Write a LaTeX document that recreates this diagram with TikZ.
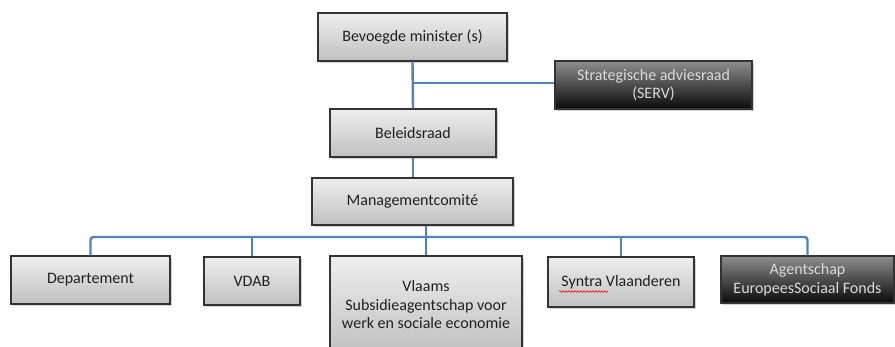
\documentclass[tikz,border=0pt]{standalone}
\usepackage{fontspec}
\setmainfont{Carlito}
\usetikzlibrary{shadows,decorations.pathmorphing}
\definecolor{linkblue}{HTML}{4F81BD}
\definecolor{boxedge}{HTML}{333333}
\definecolor{lighttop}{HTML}{EEEEEE}
\definecolor{lightbot}{HTML}{C0C0C0}
\definecolor{darktop}{HTML}{8E8E8E}
\definecolor{darkbot}{HTML}{0A0A0A}
\definecolor{lighttext}{HTML}{DADADA}
\definecolor{darktext}{HTML}{202020}
\tikzset{
  base/.style={rectangle, draw=boxedge, line width=1.1pt, inner sep=0pt, align=center,
    font=\fontsize{16}{18.5}\selectfont,
    drop shadow={shadow xshift=1.5pt, shadow yshift=-1.8pt, opacity=0.35}},
  lightbox/.style={base, top color=lighttop, bottom color=lightbot, text=darktext},
  darkbox/.style={base, top color=darktop, bottom color=darkbot, text=lighttext},
  link/.style={draw=linkblue, line width=2.4pt, rounded corners=3pt},
  spell/.style={red, line width=0.6pt, decorate, decoration={snake, amplitude=0.8pt, segment length=3pt}}
}
\begin{document}
\begin{tikzpicture}[x=1pt, y=-1pt]
\useasboundingbox (0,0) rectangle (895,347);
\clip (0,0) rectangle (895,347);
% boxes (centre, size in px)
\node[lightbox, minimum width=189pt, minimum height=48pt] (min) at (412.5,37) {Bevoegde minister (s)};
\node[darkbox, minimum width=197pt, minimum height=48pt] (serv) at (653.5,85) {Strategische adviesraad\\(SERV)};
\node[lightbox, minimum width=166pt, minimum height=48pt] (bel) at (413,133) {Beleidsraad};
\node[lightbox, minimum width=201pt, minimum height=47pt] (mc) at (412.5,201.5) {Managementcomité};
\node[lightbox, minimum width=159pt, minimum height=48pt] (dep) at (90.5,280) {Departement};
\node[lightbox, minimum width=96pt, minimum height=48pt] (vdab) at (252,281) {VDAB};
\node[lightbox, minimum width=192pt, minimum height=98pt] (vl) at (426,305) {Vlaams\\Subsidieagentschap voor\\werk en sociale economie};
\node[lightbox, minimum width=146pt, minimum height=50pt] (syn) at (621,282) {Syntra Vlaanderen};
\node[darkbox, minimum width=173pt, minimum height=47pt] (ag) at (807.5,279.5) {Agentschap\\EuropeesSociaal Fonds};
% spell-check underline
\coordinate (sp1) at (559,291.5);
\coordinate (sp2) at (608,291.5);
\draw[spell] (sp1) -- (sp2);
% connectors
\coordinate (busy) at (0,237);
\coordinate (servy) at (0,83);
\draw[link] (min.south) -- (bel.north);
\draw[link] (min.south |- servy) -- (serv.west |- servy);
\draw[link] (bel.south) -- (bel.south |- mc.north);
\draw[link] (vl.north |- mc.south) -- (vl.north);
\draw[link] (dep.north) -- (dep.north |- busy) -- (ag.north |- busy) -- (ag.north);
\draw[link] (vdab.north |- busy) -- (vdab.north);
\draw[link] (syn.north |- busy) -- (syn.north);
\end{tikzpicture}
\end{document}
